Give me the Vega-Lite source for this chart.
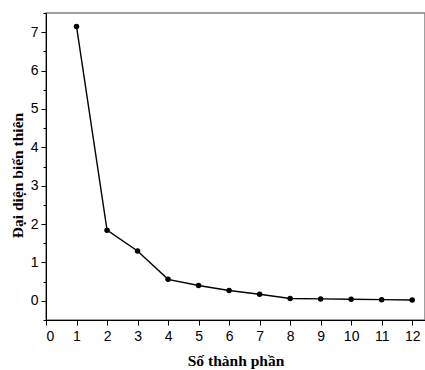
{
  "$schema": "https://vega.github.io/schema/vega-lite/v6.json",
  "autosize": "none",
  "width": 379,
  "height": 307,
  "padding": {"left": 46, "top": 13, "right": 0, "bottom": 50},
  "background": "white",
  "config": {
    "view": {"stroke": "#808080", "strokeWidth": 1.5},
    "axis": {
      "domainColor": "#000",
      "tickColor": "#000",
      "labelColor": "#000",
      "titleColor": "#000",
      "grid": false,
      "labelFont": "Liberation Sans",
      "labelFontSize": 14,
      "titleFont": "Liberation Serif",
      "titleFontSize": 15.5,
      "titleFontWeight": "bold"
    }
  },
  "data": {
    "values": [
      {"k": 1, "v": 7.15},
      {"k": 2, "v": 1.84},
      {"k": 3, "v": 1.3},
      {"k": 4, "v": 0.56},
      {"k": 5, "v": 0.4},
      {"k": 6, "v": 0.27},
      {"k": 7, "v": 0.17},
      {"k": 8, "v": 0.06},
      {"k": 9, "v": 0.05},
      {"k": 10, "v": 0.04},
      {"k": 11, "v": 0.03},
      {"k": 12, "v": 0.02}
    ]
  },
  "encoding": {
    "x": {
      "field": "k",
      "type": "quantitative",
      "scale": {"domain": [0, 12.42], "nice": false, "zero": false},
      "axis": {
        "title": "Số thành phần",
        "values": [0, 1, 2, 3, 4, 5, 6, 7, 8, 9, 10, 11, 12],
        "format": "d",
        "tickSize": 5,
        "labelPadding": 4,
        "titlePadding": 10
      }
    },
    "y": {
      "field": "v",
      "type": "quantitative",
      "scale": {"domain": [-0.5, 7.5], "nice": false, "zero": false},
      "axis": {
        "title": "Đại diện biến thiên",
        "values": [-0.5, 0, 0.5, 1, 1.5, 2, 2.5, 3, 3.5, 4, 4.5, 5, 5.5, 6, 6.5, 7, 7.5],
        "labelExpr": "datum.value % 1 === 0 ? format(datum.value, 'd') : ''",
        "tickSize": {"condition": {"test": "datum.value % 1 === 0", "value": 5}, "value": 3},
        "labelPadding": 3,
        "titlePadding": 5,
        "titleY": 162
      }
    }
  },
  "layer": [
    {"mark": {"type": "line", "color": "#000", "strokeWidth": 1.4}},
    {"mark": {"type": "point", "filled": true, "color": "#000", "opacity": 1, "size": 30}}
  ]
}
